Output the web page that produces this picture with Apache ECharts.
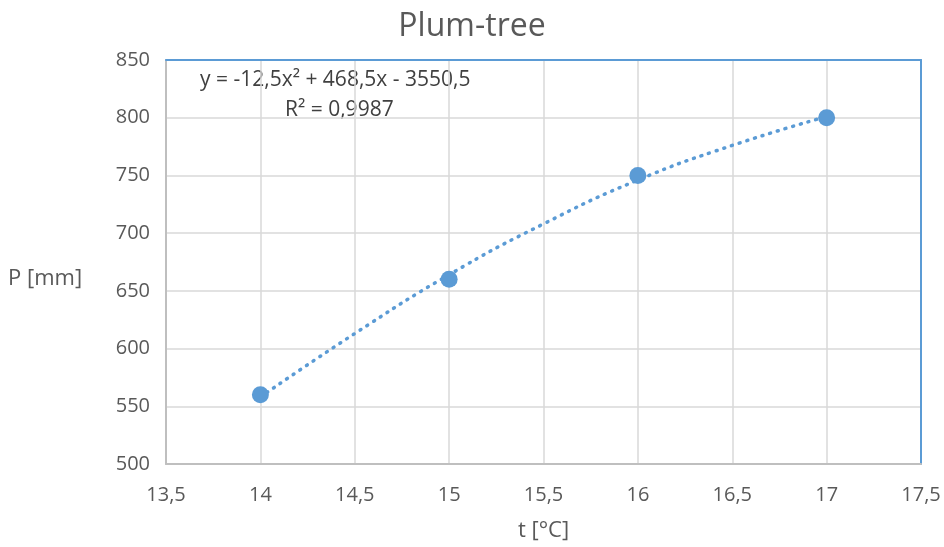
<!DOCTYPE html>
<html>
<head>
<meta charset="utf-8">
<script src="https://cdn.jsdelivr.net/npm/echarts@6/dist/echarts.min.js"></script>
<style>html,body{margin:0;padding:0;background:#fff}#c{width:944px;height:547px}</style>
</head>
<body>
<div id="c"></div>
<script>
const temps = [14, 15, 16, 17];
const precip = [560, 660, 750, 800];
const trendX = [14, 14.5, 15, 15.5, 16, 16.5, 17];
const trendY = [558, 613, 664, 708, 746, 776, 801];
const xTicks = {min: 13.5, max: 17.5, interval: 0.5};
const yTicks = {min: 500, max: 850, interval: 50};
const equation = 'y = -12,5x² + 468,5x - 3550,5';
const rSquared = 'R² = 0,9987';

const font = 'Open Sans, Liberation Sans, sans-serif';
const chart = echarts.init(document.getElementById('c'));
const comma = v => String(v).replace('.', ',');
const borderAxis = {type: 'value', axisLabel: {show: false}, axisTick: {show: false},
  splitLine: {show: false}, axisLine: {show: true, lineStyle: {color: '#5b9bd5', width: 2}}};
chart.setOption({
  animation: false,
  title: {text: 'Plum-tree', left: 'center', top: 6,
    textStyle: {fontFamily: font, fontSize: 32, fontWeight: 'normal', color: '#595959'}},
  grid: {left: 166, right: 23, top: 60, bottom: 82},
  xAxis: [{type: 'value', min: xTicks.min, max: xTicks.max, interval: xTicks.interval,
    name: 't [°C]', nameLocation: 'middle', nameGap: 56,
    nameTextStyle: {fontFamily: font, fontSize: 22, color: '#595959'},
    axisLine: {show: true, lineStyle: {color: '#bfbfbf', width: 2}},
    axisTick: {show: false},
    axisLabel: {formatter: comma, margin: 21, fontFamily: font, fontSize: 20, color: '#595959'},
    splitLine: {show: true, lineStyle: {color: '#d9d9d9', width: 1.5}}},
    Object.assign({}, borderAxis, {position: 'top', min: xTicks.min, max: xTicks.max})],
  yAxis: [{type: 'value', min: yTicks.min, max: yTicks.max, interval: yTicks.interval,
    axisLine: {show: true, lineStyle: {color: '#bfbfbf', width: 2}},
    axisTick: {show: false},
    axisLabel: {margin: 16, fontFamily: font, fontSize: 20, color: '#595959'},
    splitLine: {show: true, lineStyle: {color: '#d9d9d9', width: 1.5}}},
    Object.assign({}, borderAxis, {position: 'right', min: yTicks.min, max: yTicks.max})],
  graphic: [
    {type: 'text', left: 8, top: 268, style: {text: 'P [mm]', fontFamily: font, fontSize: 22, fill: '#595959'}},
    {type: 'text', left: 200, top: 70, style: {text: equation, fontFamily: font, fontSize: 21, fill: '#404040'}},
    {type: 'text', left: 285, top: 100, style: {text: rSquared, fontFamily: font, fontSize: 21, fill: '#404040'}}
  ],
  series: [
    {type: 'line', data: trendX.map((x, i) => [x, trendY[i]]), smooth: true, showSymbol: false,
      lineStyle: {color: '#5b9bd5', width: 3.5, type: [1, 7], cap: 'round'}, silent: true, z: 1},
    {type: 'scatter', data: temps.map((t, i) => [t, precip[i]]), symbolSize: 17,
      itemStyle: {color: '#5b9bd5', opacity: 1}, z: 3}
  ]
});
</script>
</body>
</html>
